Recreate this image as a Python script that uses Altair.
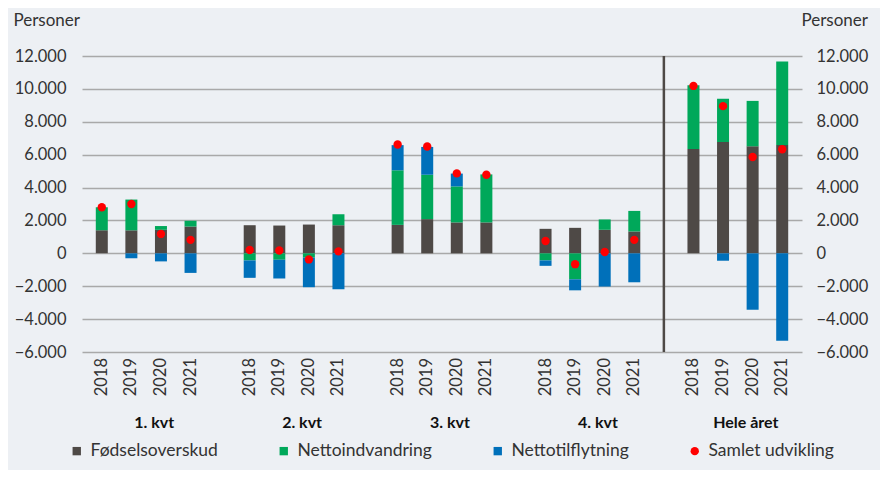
import altair as alt
import pandas as pd

groups = ["1. kvt", "2. kvt", "3. kvt", "4. kvt", "Hele året"]
years = ["2018", "2019", "2020", "2021"]
series = ["Fødselsoverskud", "Nettoindvandring", "Nettotilflytning", "Samlet udvikling"]
colors = ["#4e4946", "#00a85a", "#0070ba", "#ff0000"]

fodsel = [1400, 1400, 1430, 1630, 1710, 1690, 1750, 1710, 1730, 2080, 1880, 1880,
          1490, 1550, 1430, 1330, 6340, 6770, 6510, 6590]
nettoind = [1400, 1870, 230, 350, -430, -390, -260, 660, 3320, 2700, 2190, 2920,
            -430, -1580, 630, 1250, 3880, 2630, 2760, 5070]
nettotil = [0, -300, -490, -1190, -1060, -1140, -1800, -2180, 1530, 1690, 780, 0,
            -330, -670, -2020, -1760, 0, -450, -3430, -5310]
samlet = [2800, 3000, 1180, 820, 200, 170, -370, 120, 6620, 6500, 4860, 4780,
          750, -660, 80, 820, 10180, 8950, 5860, 6330]

rows, pts, yrs = [], [], []
for gi, g in enumerate(groups):
    for yi, yr in enumerate(years):
        i = gi * 4 + yi
        slot = gi * 5 + yi
        for si, vals in enumerate([fodsel, nettoind, nettotil]):
            rows.append({"slot": slot, "serie": series[si], "ord": si, "value": vals[i]})
        pts.append({"slot": slot, "serie": series[3], "value": samlet[i]})
        yrs.append({"slot": slot, "year": yr})
bars_df = pd.DataFrame(rows)
pts_df = pd.DataFrame(pts)
yrs_df = pd.DataFrame(yrs)
grp_df = pd.DataFrame({"group": groups, "center": [gi * 5 + 1.5 for gi in range(len(groups))]})
sep_df = pd.DataFrame({"slot": [19]})

W, H = 720, 296
FONT = "Lato"
xscale = alt.Scale(domain=[-0.5, 23.5], nice=False, zero=False)
yscale = alt.Scale(domain=[-6000, 12000], nice=False)
cscale = alt.Scale(domain=series, range=colors)
sscale = alt.Scale(domain=series, range=["square", "square", "square", "circle"])

left_axis = alt.Axis(values=list(range(-6000, 12001, 2000)), format=",.0f", grid=True,
                     gridColor="#a9a9a9", gridWidth=1.6, domain=False, ticks=False, tickSize=0,
                     labelPadding=16, labelFontSize=16.5, labelColor="#333333",
                     labelExpr="replace(datum.label, ',', '.')",
                     title="Personer", titleAngle=0, titleAlign="left", titleBaseline="middle",
                     titleX=-69, titleY=-36, titleFontSize=17, titleFontWeight="normal",
                     titleColor="#333333")
right_axis = alt.Axis(orient="right", values=list(range(-6000, 12001, 2000)), format=",.0f",
                      grid=False, domain=False, ticks=False, tickSize=0, labelPadding=14,
                      labelFontSize=16.5, labelColor="#333333",
                      labelExpr="replace(datum.label, ',', '.')",
                      title="Personer", titleAngle=0, titleAlign="left", titleBaseline="middle",
                      titleX=-1, titleY=-36, titleFontSize=17, titleFontWeight="normal",
                      titleColor="#333333")


def make_legend():
    return alt.Legend(orient="none", legendX=-14, legendY=386, direction="horizontal",
                      columns=4, columnPadding=57, title=None, labelFontSize=17.5,
                      labelColor="#333333", symbolSize=70, labelOffset=5,
                      symbolStrokeWidth=0)


bars = alt.Chart(bars_df).mark_bar(size=12).encode(
    x=alt.X("slot:Q", scale=xscale, axis=None),
    y=alt.Y("sum(value):Q", scale=yscale, axis=left_axis, stack="zero"),
    color=alt.Color("serie:N", scale=cscale, legend=make_legend()),
    order=alt.Order("ord:Q"),
)

dots = alt.Chart(pts_df).mark_point(filled=True, opacity=1, size=70).encode(
    x=alt.X("slot:Q", scale=xscale, axis=None),
    y=alt.Y("value:Q", scale=yscale, axis=None),
    color=alt.Color("serie:N", scale=cscale, legend=make_legend()),
    shape=alt.Shape("serie:N", scale=sscale, legend=make_legend()),
)

right = alt.Chart(pts_df).mark_point(opacity=0).encode(
    x=alt.X("slot:Q", scale=xscale, axis=None),
    y=alt.Y("value:Q", scale=yscale, axis=right_axis),
)

sep = alt.Chart(sep_df).mark_rule(color="#4e4946", strokeWidth=2.5).encode(
    x=alt.X("slot:Q", scale=xscale, axis=None),
    y=alt.value(0), y2=alt.value(H),
)

year_text = alt.Chart(yrs_df).mark_text(angle=270, align="right", baseline="middle",
                                        fontSize=16.5, color="#333333").encode(
    x=alt.X("slot:Q", scale=xscale, axis=None),
    y=alt.value(H + 6),
    text="year:N",
)

grp_text = alt.Chart(grp_df).mark_text(align="center", baseline="middle", fontSize=16,
                                       fontWeight="bold", color="#111111", dx=8).encode(
    x=alt.X("center:Q", scale=xscale, axis=None),
    y=alt.value(H + 71),
    text="group:N",
)

chart = alt.layer(sep, bars, right, dots, year_text, grp_text).resolve_scale(
    y="independent"
).properties(
    width=W, height=H,
    autosize=alt.AutoSizeParams(type="none"),
    padding={"left": 74, "top": 48, "right": 78, "bottom": 118},
    background="#edf0f4",
).configure(font=FONT).configure_view(stroke=None)

chart.save("out.html", embed_options={"renderer": "svg", "actions": False})
